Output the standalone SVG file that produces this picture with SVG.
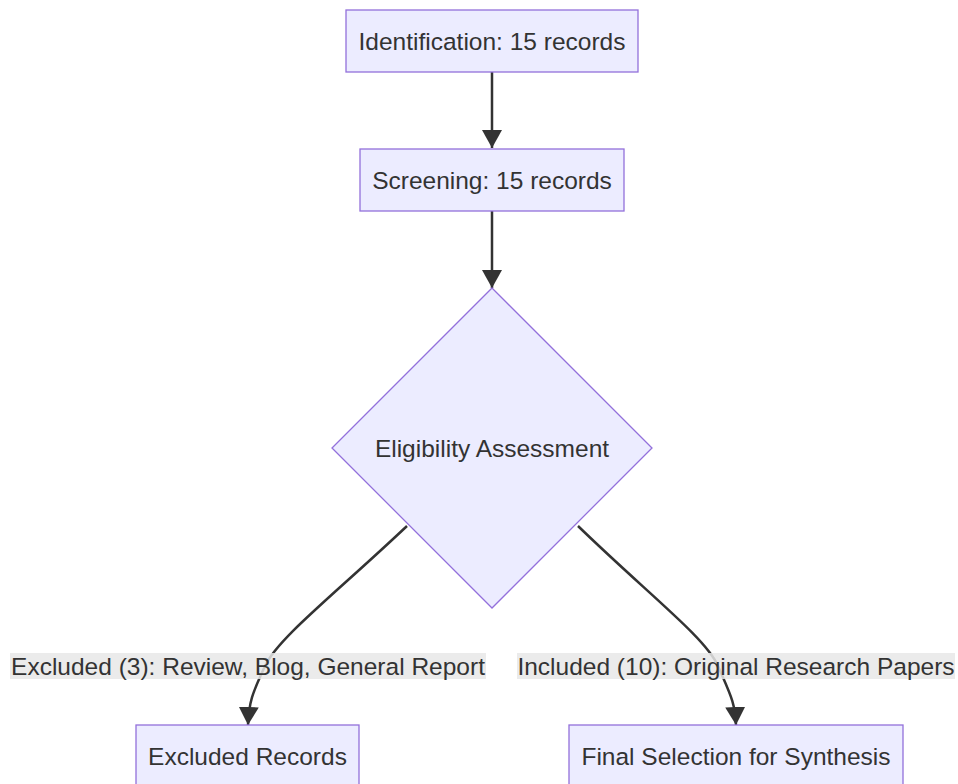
<svg xmlns="http://www.w3.org/2000/svg" width="958" height="784" viewBox="0 0 958 784">
  <style>
    .node { fill: #ECECFF; stroke: #9370DB; stroke-width: 1.3; }
    .label { font-family: "Liberation Sans", Arial, sans-serif; font-size: 24.5px; fill: #333333; text-anchor: middle; dominant-baseline: central; }
    .edge { fill: none; stroke: #333333; stroke-width: 2.5; }
    .edge-bg { fill: #e8e8e8; fill-opacity: 0.85; }
  </style>
  <defs>
    <marker id="arrow" viewBox="0 0 20 20" refX="18" refY="10" markerWidth="20" markerHeight="20" markerUnits="userSpaceOnUse" orient="auto">
      <path d="M0,0 L18,10 L0,20 Z" fill="#333333"/>
    </marker>
  </defs>

  <!-- connectors -->
  <g id="edges">
    <path class="edge" d="M492,72 L492,148" marker-end="url(#arrow)"/>
    <path class="edge" d="M492,211 L492,288" marker-end="url(#arrow)"/>
    <path class="edge" d="M407,526 C335,594 278,638 265,666 S249,702 248,725" marker-end="url(#arrow)"/>
    <path class="edge" d="M578,526 C648,594 706,638 718,666 S735,702 736,725" marker-end="url(#arrow)"/>
    <g id="edge-label-excluded">
      <rect class="edge-bg" x="10" y="653" width="476" height="26"/>
      <text class="label" x="248" y="666">Excluded (3): Review, Blog, General Report</text>
    </g>
    <g id="edge-label-included">
      <rect class="edge-bg" x="517" y="653" width="438" height="26"/>
      <text class="label" x="736" y="666">Included (10): Original Research Papers</text>
    </g>
  </g>

  <!-- nodes -->
  <g id="identification">
    <rect class="node" x="346" y="10" width="292" height="62"/>
    <text class="label" x="492" y="41">Identification: 15 records</text>
  </g>
  <g id="screening">
    <rect class="node" x="360" y="149" width="264" height="62"/>
    <text class="label" x="492" y="180">Screening: 15 records</text>
  </g>
  <g id="eligibility">
    <polygon class="node" points="492,288 652,448 492,608 332,448"/>
    <text class="label" x="492" y="448">Eligibility Assessment</text>
  </g>
  <g id="excluded">
    <rect class="node" x="136" y="725" width="223" height="62"/>
    <text class="label" x="247.5" y="756">Excluded Records</text>
  </g>
  <g id="final-selection">
    <rect class="node" x="569" y="725" width="334" height="62"/>
    <text class="label" x="736" y="756">Final Selection for Synthesis</text>
  </g>
</svg>
